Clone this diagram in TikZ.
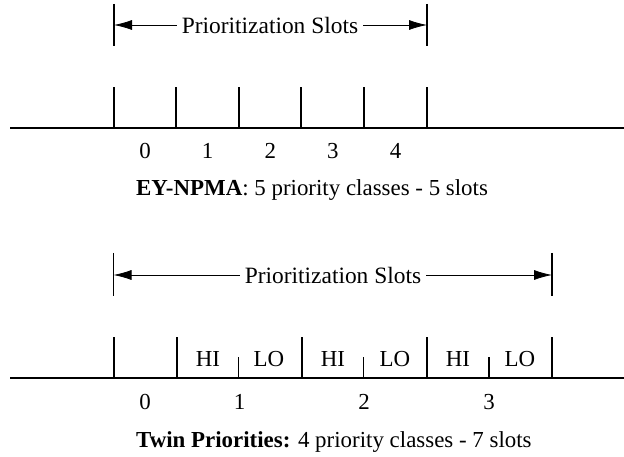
\documentclass[tikz,border=0pt]{standalone}
\usepackage{fontspec}
\setmainfont{Liberation Serif}
\usetikzlibrary{arrows.meta}
\begin{document}
\begin{tikzpicture}[x=1bp,y=-1bp,
  baseln/.style={line width=2bp},
  tickln/.style={line width=2bp},
  smalltickln/.style={line width=1.2bp},
  brk/.style={line width=1.5bp},
  dimln/.style={line width=0.8bp,-{Latex[length=18bp,width=10bp]}},
  lab/.style={font=\fontsize{23}{27}\selectfont,inner sep=0pt},
  ttl/.style={font=\fontsize{23.5}{27}\selectfont,inner sep=5bp},
  captxt/.style={font=\fontsize{23}{27}\selectfont,inner sep=0pt,anchor=west}]
\useasboundingbox (0,0) rectangle (624,457);
% ---------- top ----------
\coordinate (tl1) at (114,4); \coordinate (tl2) at (114,46);
\coordinate (tr1) at (427,4); \coordinate (tr2) at (427,46);
\draw[brk] (tl1) -- (tl2);
\draw[brk] (tr1) -- (tr2);
\coordinate (ta) at (114,25); \coordinate (tb) at (427,25);
\node[ttl] (tt) at (270,25) {Prioritization Slots};
\draw[dimln] (tt.west) -- (ta);
\draw[dimln] (tt.east) -- (tb);
\coordinate (b1s) at (10,128); \coordinate (b1e) at (624,128);
\draw[baseln] (b1s) -- (b1e);
\foreach \i in {0,...,5}{
  \coordinate (t\i) at ({113.5+62.65*\i},128);
  \draw[tickln] (t\i) -- ++(0,-41);
}
\foreach \i in {0,...,4}{
  \node[lab] (n\i) at ({145+62.65*\i},151) {\i};
}
\node[captxt] (c1) at (136,190) {\textbf{EY-NPMA}: 5 priority classes - 5 slots};
% ---------- bottom ----------
\coordinate (bl1) at (113.5,253); \coordinate (bl2) at (113.5,296);
\coordinate (br1) at (552,253); \coordinate (br2) at (552,296);
\draw[brk] (bl1) -- (bl2);
\draw[brk] (br1) -- (br2);
\coordinate (ba) at (113.5,275); \coordinate (bb) at (552,275);
\node[ttl] (bt) at (333,275) {Prioritization Slots};
\draw[dimln] (bt.west) -- (ba);
\draw[dimln] (bt.east) -- (bb);
\coordinate (b2s) at (10,378); \coordinate (b2e) at (624,378);
\draw[baseln] (b2s) -- (b2e);
\foreach \x in {113.5,176.7,301.7,426.7,552}{
  \draw[tickln] (\x,378) -- ++(0,-41);
}
\foreach \x in {238.5,363.5,489}{
  \draw[smalltickln] (\x,378) -- ++(0,-21);
}
\foreach \x/\t in {208/HI,269/LO,333/HI,395/LO,458/HI,520/LO}{
  \node[lab] at (\x,359) {\t};
}
\foreach \x/\t in {145/0,239.5/1,364/2,489/3}{
  \node[lab] at (\x,402) {\t};
}
\node[captxt] (c2) at (136,442) {\textbf{Twin Priorities:} 4 priority classes - 7 slots};
\end{tikzpicture}
\end{document}
